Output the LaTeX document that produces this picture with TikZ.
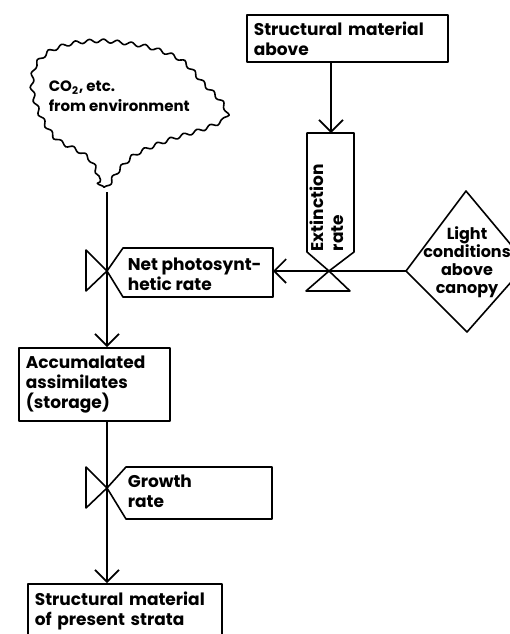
\documentclass[tikz,border=0pt]{standalone}
\usepackage{fontspec}
\setmainfont{Poppins}
\usetikzlibrary{positioning, arrows.meta, decorations.pathmorphing}

\begin{document}
\begin{tikzpicture}
    [
        x=0.5pt, y=-0.5pt, line width=0.8pt, line join=round,
        txt/.style={font=\fontsize{8.5}{10}\selectfont\bfseries},
        stock_box/.style={draw, txt, align=left, inner xsep=3.5pt, anchor=north west},
        label_text/.style={txt, align=left, inner sep=0pt, anchor=north west},
        flow/.style={-{Straight Barb[length=6pt, width=12pt]}},
    ]
        \useasboundingbox (0,0) rectangle (510,634) ;
        \clip (0,0) rectangle (510,634) ;
        \node[stock_box, text width=93.5pt, minimum height=23.5pt] (smabove) at (246,14) {Structural material\\above} ;
        \node[stock_box, text width=68.5pt, minimum height=36.5pt] (acc) at (18,347) {Accumalated\\assimilates\\(storage)} ;
        \node[stock_box, text width=90pt, inner ysep=4pt] (strata) at (27,583) {Structural material\\of present strata} ;
        \coordinate (cloudtip) at (107,192) ;
        \coordinate (extop) at (331,133) ;
        \coordinate (ev) at (329,271) ;
        \coordinate (nv) at (107,271) ;
        \coordinate (netR) at (273,271) ;
        \coordinate (gv) at (107,488) ;
        \coordinate (lightW) at (406,271) ;
        \draw[decorate, decoration={snake, amplitude=0.9pt, segment length=7pt}]
            plot[smooth cycle] coordinates {(107,192) (99,176) (92,163) (80,154) (58,142) (42,118) (34,92) (37,69) (52,54) (76,46) (107,44) (150,50) (183,63) (205,86) (225,107) (228,122) (205,133) (170,144) (138,158) (121,174)} ;
        \node[label_text, font=\fontsize{7.5}{10}\selectfont\bfseries] (co2) at (48,80) {CO\textsubscript{2}, etc.\\from environment} ;
        \draw (307,133) -- (354,133) -- (354,252) -- (ev) -- (307,252) -- cycle ;
        \draw (ev) -- (306,291) -- (350,291) -- cycle ;
        \node[label_text, rotate=90] (ext) at (309,252) {Extinction\\rate} ;
        \draw (nv) -- (123,248) -- (273,248) -- (273,297) -- (123,297) -- cycle ;
        \draw (nv) -- (86,250) -- (86,291) -- cycle ;
        \node[label_text] (net) at (127,257) {Net photosynt-\\hetic rate} ;
        \draw (gv) -- (126,467) -- (272,467) -- (272,519) -- (126,519) -- cycle ;
        \draw (gv) -- (86,467) -- (86,508) -- cycle ;
        \node[label_text] (growth) at (127,474) {Growth\\rate} ;
        \draw (lightW) -- (466,191) -- (527,264) -- (467,332) -- cycle ;
        \node[txt, align=center, inner sep=0pt, anchor=north, font=\fontsize{8}{9}\selectfont\bfseries] (light) at (467,226) {Light\\conditions\\above\\canopy} ;
        \draw[flow] (extop |- smabove.south) -- (extop) ;
        \draw[flow] (lightW) -- (netR) ;
        \draw[flow] (cloudtip) -- (cloudtip |- acc.north) ;
        \draw[flow] (cloudtip |- acc.south) -- (cloudtip |- strata.north) ;
    \end{tikzpicture}
\end{document}
